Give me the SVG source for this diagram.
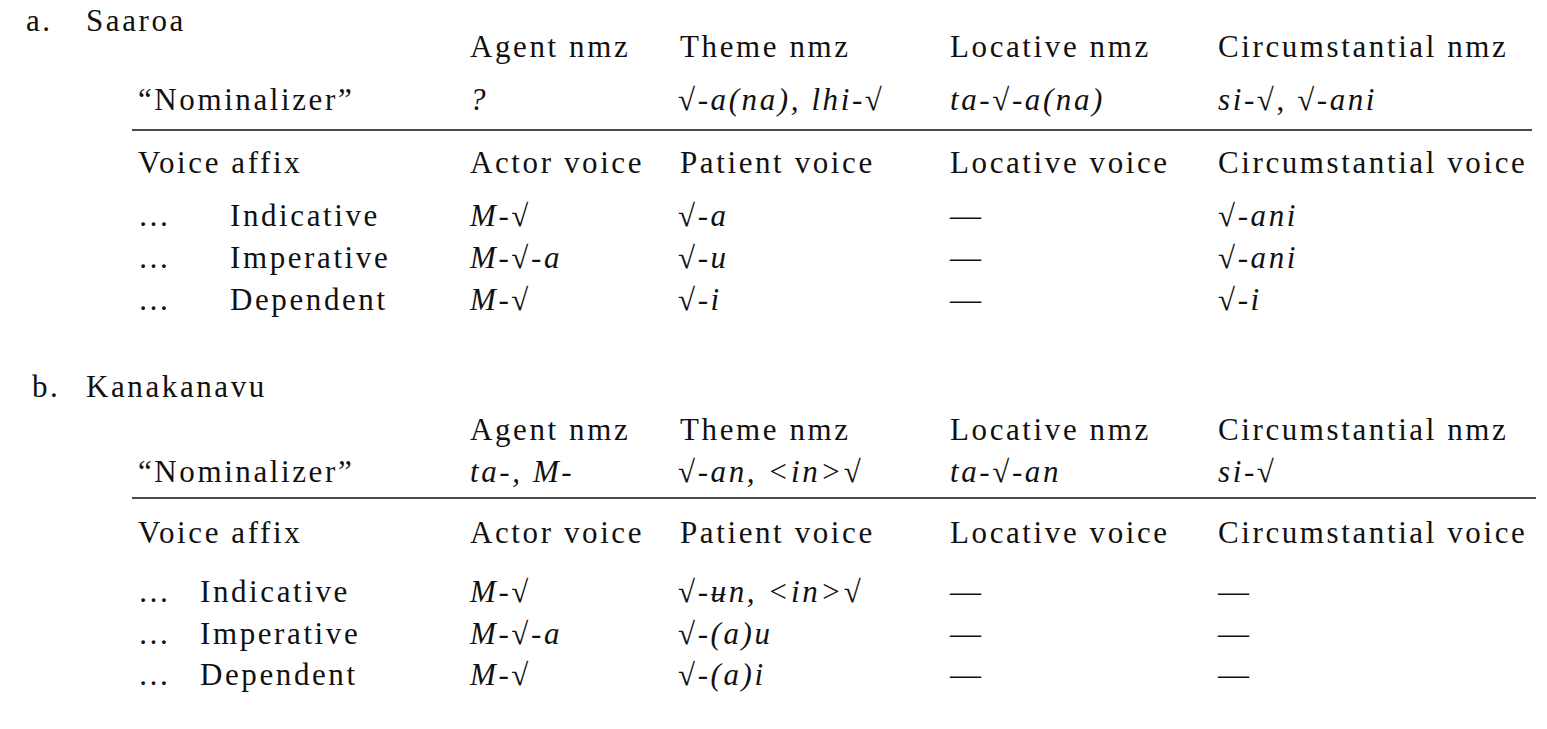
<svg xmlns="http://www.w3.org/2000/svg" width="1547" height="729" viewBox="0 0 1547 729">
<style>
text{font-family:"Liberation Serif","DejaVu Serif",serif;font-size:31px;letter-spacing:2.6px;fill:#111}
.i{font-style:italic}
line{stroke:#111;stroke-width:1.5}
</style>
<rect width="1547" height="729" fill="#fff"/>
<text x="26" y="31">a.</text><text x="86" y="31">Saaroa</text>
<text x="470" y="57">Agent nmz</text><text x="680" y="57">Theme nmz</text><text x="950" y="57">Locative nmz</text><text x="1218" y="57">Circumstantial nmz</text>
<text x="138" y="110">“Nominalizer”</text>
<text x="470" y="110" class="i">?</text>
<text x="678" y="110">√<tspan class="i">-a(na), lhi-</tspan>√</text>
<text x="950" y="110"><tspan class="i">ta-</tspan>√<tspan class="i">-a(na)</tspan></text>
<text x="1218" y="110"><tspan class="i">si-</tspan>√, √<tspan class="i">-ani</tspan></text>
<line x1="132" y1="130" x2="1532" y2="130"/>
<text x="138" y="173">Voice affix</text><text x="470" y="173">Actor voice</text><text x="680" y="173">Patient voice</text><text x="950" y="173">Locative voice</text><text x="1218" y="173">Circumstantial voice</text>
<text x="138" y="226">…</text><text x="230" y="226">Indicative</text>
<text x="470" y="226" class="i">M-<tspan font-style="normal">√</tspan></text><text x="678" y="226">√<tspan class="i">-a</tspan></text><text x="950" y="226">—</text><text x="1218" y="226">√<tspan class="i">-ani</tspan></text>
<text x="138" y="268">…</text><text x="230" y="268">Imperative</text>
<text x="470" y="268" class="i">M-<tspan font-style="normal">√</tspan>-a</text><text x="678" y="268">√<tspan class="i">-u</tspan></text><text x="950" y="268">—</text><text x="1218" y="268">√<tspan class="i">-ani</tspan></text>
<text x="138" y="310">…</text><text x="230" y="310">Dependent</text>
<text x="470" y="310" class="i">M-<tspan font-style="normal">√</tspan></text><text x="678" y="310">√<tspan class="i">-i</tspan></text><text x="950" y="310">—</text><text x="1218" y="310">√<tspan class="i">-i</tspan></text>

<text x="32" y="397">b.</text><text x="86" y="397">Kanakanavu</text>
<text x="470" y="440">Agent nmz</text><text x="680" y="440">Theme nmz</text><text x="950" y="440">Locative nmz</text><text x="1218" y="440">Circumstantial nmz</text>
<text x="138" y="482">“Nominalizer”</text>
<text x="470" y="482" class="i">ta-, M-</text>
<text x="678" y="482">√<tspan class="i">-an, &lt;in&gt;</tspan>√</text>
<text x="950" y="482"><tspan class="i">ta-</tspan>√<tspan class="i">-an</tspan></text>
<text x="1218" y="482"><tspan class="i">si-</tspan>√</text>
<line x1="132" y1="498" x2="1536" y2="498"/>
<text x="138" y="543">Voice affix</text><text x="470" y="543">Actor voice</text><text x="680" y="543">Patient voice</text><text x="950" y="543">Locative voice</text><text x="1218" y="543">Circumstantial voice</text>
<text x="138" y="602">…</text><text x="200" y="602">Indicative</text>
<text x="470" y="602" class="i">M-<tspan font-style="normal">√</tspan></text><text x="678" y="602">√<tspan class="i">-ʉn, &lt;in&gt;</tspan>√</text><text x="950" y="602">—</text><text x="1218" y="602">—</text>
<text x="138" y="644">…</text><text x="200" y="644">Imperative</text>
<text x="470" y="644" class="i">M-<tspan font-style="normal">√</tspan>-a</text><text x="678" y="644">√<tspan class="i">-(a)u</tspan></text><text x="950" y="644">—</text><text x="1218" y="644">—</text>
<text x="138" y="685">…</text><text x="200" y="685">Dependent</text>
<text x="470" y="685" class="i">M-<tspan font-style="normal">√</tspan></text><text x="678" y="685">√<tspan class="i">-(a)i</tspan></text><text x="950" y="685">—</text><text x="1218" y="685">—</text>
</svg>
